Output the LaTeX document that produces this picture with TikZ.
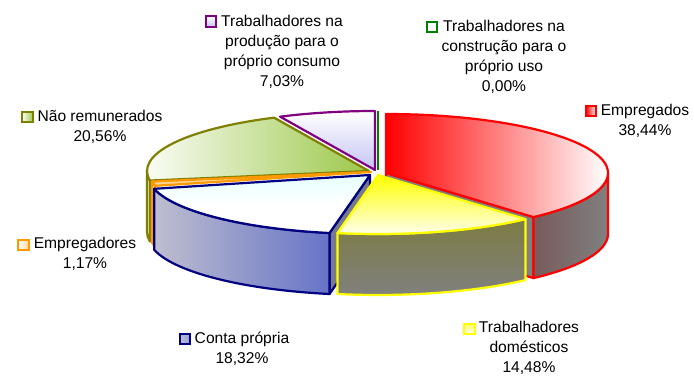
\documentclass[tikz,border=0pt]{standalone}
\usepackage{fontspec}
\setmainfont{Liberation Sans}
\usepackage{tikz}

\definecolor{empred}{HTML}{FF0000}
\definecolor{domyel}{HTML}{FFFF00}
\definecolor{contanavy}{HTML}{000080}
\definecolor{patorange}{HTML}{FF9900}
\definecolor{naoolive}{HTML}{808000}
\definecolor{naogreen}{HTML}{9CC84A}
\definecolor{prodpurple}{HTML}{800080}
\definecolor{prodlav}{HTML}{C4C4F4}
\definecolor{constgreen}{HTML}{008000}
\definecolor{sidegray}{HTML}{808080}
\definecolor{empdark}{HTML}{6A1212}
\definecolor{domside}{HTML}{7A7A20}
\definecolor{contaside}{HTML}{5262C6}
\definecolor{contalight}{HTML}{BEBECE}

% pie thickness (radii 222 x 59)
\def\dep{61}

% top face, outer side and cut face of a slice
\newcommand{\slicetop}[4]{\path[#4] (#1) -- ++(#2:222 and 59) arc[start angle=#2, end angle=#3, x radius=222, y radius=59] -- cycle;}
\newcommand{\sliceside}[4]{\path[#4] (#1) ++(#2:222 and 59) arc[start angle=#2, end angle=#3, x radius=222, y radius=59] -- ++(0,-\dep) arc[start angle=#3, end angle=#2, x radius=222, y radius=59] -- cycle;}
\newcommand{\sliceedge}[3]{\path[#3] (#1) -- ++(#2:222 and 59) -- ++(0,-\dep) -- ++(#2+180:222 and 59) -- cycle;}

\tikzset{
  slice/.style={line width=2.2pt, line join=round},
  key/.style={draw, line width=1.7pt, minimum size=10.5pt, inner sep=0pt},
  lbl/.style={align=center, anchor=base, inner sep=0pt, font=\fontsize{15.6}{20}\selectfont},
}

\begin{document}
\begin{tikzpicture}[x=1pt, y=1pt]
    \useasboundingbox (0,0) rectangle (694,380);

    \coordinate (cemp) at (386,207);
    \coordinate (cdom) at (378,205);
    \coordinate (cconta) at (370,205);
    \coordinate (cpat) at (371,208);
    \coordinate (cnao) at (369,209);
    \coordinate (cprod) at (375,210);
    \coordinate (cconst) at (378,210);

    % back slices
    \slicetop{cprod}{115.31}{90}{slice, draw=prodpurple, top color=white, bottom color=prodlav}
    \draw[slice, constgreen] (cconst) -- ++(90:222 and 59);

    \sliceside{cnao}{189.33}{180}{slice, draw=naoolive, fill=white}
    \slicetop{cnao}{189.33}{115.31}{slice, draw=naoolive, left color=white, right color=naogreen}

    % Empregados
    \sliceedge{cemp}{-48.38}{slice, draw=empred, fill=sidegray}
    \sliceside{cemp}{0}{-48.38}{slice, draw=empred, left color=empdark, right color=sidegray}
    \slicetop{cemp}{90}{-48.38}{slice, draw=empred, left color=empred, right color=white}

    % Empregadores
    \sliceside{cpat}{-166.46}{-170.67}{slice, draw=patorange, fill=patorange!25}
    \slicetop{cpat}{-166.46}{-170.67}{slice, draw=patorange, fill=patorange!40}

    % Conta propria
    \sliceedge{cconta}{-100.51}{slice, draw=contanavy, fill=sidegray!80!contaside}
    \sliceside{cconta}{-100.51}{-166.46}{slice, draw=contanavy, left color=contalight, right color=contaside}
    \slicetop{cconta}{-100.51}{-166.46}{slice, draw=contanavy, top color=cyan!10, bottom color=white, middle color=white}

    % Trabalhadores domesticos
    \sliceside{cdom}{-48.38}{-100.51}{slice, draw=domyel, top color=domside, bottom color=sidegray}
    \slicetop{cdom}{-48.38}{-100.51}{slice, draw=domyel, top color=domyel, bottom color=domyel!4}

    % labels (base = last line)
    \node[key, draw=prodpurple, top color=white, bottom color=prodlav] (kprod) at (211,358.5) {};
    \node[lbl] (lprod) at (282,293) {Trabalhadores na\\produção para o\\próprio consumo\\7,03\%};

    \node[key, draw=constgreen, fill=white] (kconst) at (432,353) {};
    \node[lbl] (lconst) at (504,288) {Trabalhadores na\\construção para o\\próprio uso\\0,00\%};

    \node[key, draw=empred, left color=empred, right color=white] (kemp) at (591,269) {};
    \node[lbl] (lemp) at (645,244) {Empregados\\38,44\%};

    \node[key, draw=naoolive, left color=white, right color=naogreen] (knao) at (27.5,263) {};
    \node[lbl] (lnao) at (100,238) {Não remunerados\\20,56\%};

    \node[key, draw=patorange, left color=white, right color=patorange!40] (kpat) at (23.5,135) {};
    \node[lbl] (lpat) at (85,111) {Empregadores\\1,17\%};

    \node[key, draw=contanavy, left color=contalight, right color=contaside!60] (kconta) at (185,41) {};
    \node[lbl] (lconta) at (242,16) {Conta própria\\18,32\%};

    \node[key, draw=domyel, top color=domyel!60, bottom color=white] (kdom) at (469.5,51) {};
    \node[lbl] (ldom) at (529,7) {Trabalhadores\\domésticos\\14,48\%};
\end{tikzpicture}
\end{document}
